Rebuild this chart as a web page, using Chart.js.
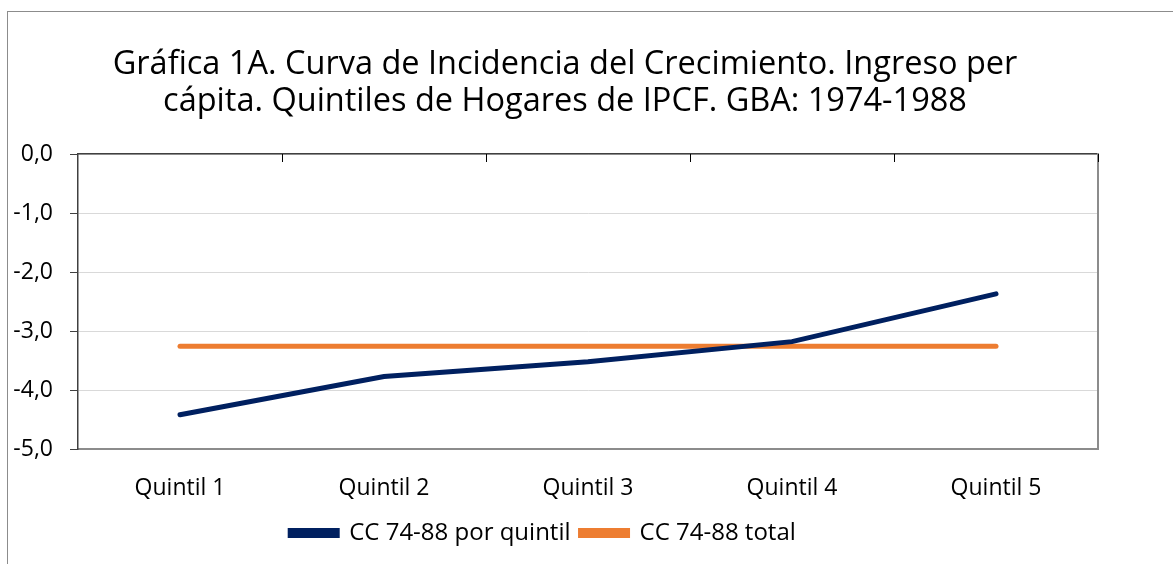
<!DOCTYPE html>
<html lang="es">
<head>
<meta charset="UTF-8">
<title>Curva de Incidencia del Crecimiento GBA 1974-1988</title>
<script src="https://cdn.jsdelivr.net/npm/chart.js"></script>
<style>
    body { margin: 0; background: #fff; overflow: hidden; }
    .wrap { position: relative; width: 1173px; height: 564px; }
    .frame { position: absolute; left: 7px; top: 11px; width: 1200px; height: 600px; border: 1px solid #8c8c8c; }
    #chart { position: absolute; left: 0; top: 0; }
</style>
</head>
<body>
<div class="wrap">
    <div class="frame"></div>
    <canvas id="chart" width="1173" height="564"></canvas>
</div>
<script>
// data
const quintiles = ['Quintil 1', 'Quintil 2', 'Quintil 3', 'Quintil 4', 'Quintil 5'];
const ccPorQuintil = [-4.42, -3.77, -3.52, -3.18, -2.37];
const ccTotal = [-3.26, -3.26, -3.26, -3.26, -3.26];
const titleLines = ['Gráfica 1A. Curva de Incidencia del Crecimiento. Ingreso per',
                    'cápita. Quintiles de Hogares de IPCF. GBA: 1974-1988'];

const FONT = '"Open Sans", Lato, sans-serif';

// small tick marks hanging down from the top axis, at the category borders
const topTicks = {
    id: 'topTicks',
    afterLayout(chart) {
        // legend sits a bit left of centre in the original
        chart.legend.left -= 22;
        chart.legend.right -= 22;
    },
    afterDraw(chart) {
        const x = chart.scales.x;
        const top = chart.chartArea.top;
        const ctx = chart.ctx;
        ctx.save();
        ctx.strokeStyle = '#000';
        ctx.lineWidth = 1;
        for (let i = 0; i < quintiles.length; i++) {
            const px = Math.round(x.getPixelForValue(i + 0.5)) + 0.5;
            ctx.beginPath();
            ctx.moveTo(px, top);
            ctx.lineTo(px, top + 8);
            ctx.stroke();
        }
        ctx.restore();
    }
};

new Chart(document.getElementById('chart'), {
    type: 'line',
    data: {
        labels: quintiles,
        datasets: [{
            label: 'CC 74-88 por quintil',
            data: ccPorQuintil,
            borderColor: '#002060',
            backgroundColor: '#002060',
            borderWidth: 5,
            borderCapStyle: 'round',
            pointRadius: 0,
            tension: 0
        }, {
            label: 'CC 74-88 total',
            data: ccTotal,
            borderColor: '#ed7d31',
            backgroundColor: '#ed7d31',
            borderWidth: 5,
            borderCapStyle: 'round',
            pointRadius: 0,
            tension: 0
        }]
    },
    options: {
        responsive: false,
        animation: false,
        layout: { padding: { left: 0, right: 43, top: 0, bottom: 9 } },
        plugins: {
            title: {
                display: true,
                text: titleLines,
                color: '#000',
                font: { family: FONT, size: 32.5, weight: 'normal', lineHeight: 1.15 },
                padding: { top: 46, bottom: 0 }
            },
            legend: {
                position: 'bottom',
                labels: {
                    color: '#000',
                    font: { family: FONT, size: 24 },
                    boxWidth: 47,
                    boxHeight: 5,
                    padding: 10
                }
            },
            tooltip: { enabled: false }
        },
        scales: {
            x: {
                position: 'bottom',
                offset: true,
                grid: { display: false, drawTicks: false },
                border: { color: '#8c8c8c', width: 2 },
                ticks: { color: '#000', font: { family: FONT, size: 23 }, padding: 26, maxRotation: 0 },
                afterFit(scale) { scale.height = 62; }
            },
            xTop: {
                type: 'category',
                position: 'top',
                offset: true,
                grid: { display: false, drawTicks: false },
                border: { color: '#404040', width: 1.5 },
                ticks: { display: false },
                afterFit(scale) { scale.height = 33.25; }
            },
            y: {
                position: 'left',
                min: -5,
                max: 0,
                ticks: {
                    stepSize: 1,
                    color: '#000',
                    font: { family: FONT, size: 23 },
                    padding: 17,
                    callback: v => v.toFixed(1).replace('.', ',')
                },
                grid: { color: '#d9d9d9', tickColor: '#404040', tickLength: 8 },
                border: { color: '#404040', width: 1.5 },
                afterFit(scale) { scale.width = 78; }
            },
            yRight: {
                position: 'right',
                min: -5,
                max: 0,
                grid: { display: false, drawTicks: false },
                border: { color: '#8c8c8c', width: 2 },
                ticks: { display: false },
                afterFit(scale) { scale.width = 32; }
            }
        }
    },
    plugins: [topTicks]
});
</script>
</body>
</html>
